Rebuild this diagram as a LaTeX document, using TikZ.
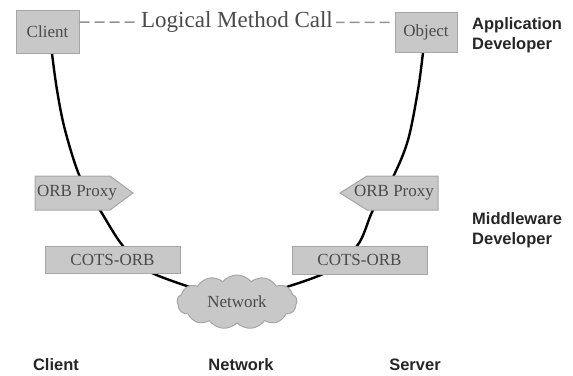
\documentclass[tikz,border=0pt]{standalone}
\usepackage{fontspec}
\setmainfont{Liberation Serif}
\newfontfamily\rolefont{Liberation Sans}
\usetikzlibrary{shapes.symbols,backgrounds}
\definecolor{boxfill}{HTML}{C8C8C8}
\definecolor{boxline}{HTML}{A6A6A6}
\definecolor{boxtext}{HTML}{4A4A4A}
\tikzset{
  box/.style={draw=boxline, line width=1pt, fill=boxfill, text=boxtext,
    font=\fontsize{17}{19}\selectfont, inner sep=0pt},
  boxlabel/.style={text=boxtext, font=\fontsize{17}{19}\selectfont, inner sep=0pt},
  proxyshape/.style={draw=boxline, line width=1pt, fill=boxfill, line join=miter},
  role/.style={font=\rolefont\bfseries\fontsize{16.5}{20}\selectfont, text=black!85,
    align=left, inner sep=0pt},
  wire/.style={line width=2.4pt, black},
  callline/.style={draw=gray!85, line width=1.5pt, dash pattern=on 10pt off 5pt},
}
\begin{document}
\begin{tikzpicture}[x=1pt,y=-1pt]
\useasboundingbox (0,0) rectangle (573,375);

% application objects
\node[box, minimum width=63pt, minimum height=43pt] (client) at (47.5,31.5) {Client};
\node[box, minimum width=62pt, minimum height=40pt] (object) at (426,32) {Object};

% middleware: ORB proxies (pointed tags) and COTS ORBs
\filldraw[proxyshape] (35,176) -- (110,176) -- (133,193) -- (110,210) -- (35,210) -- cycle;
\filldraw[proxyshape] (438,176) -- (367,176) -- (340,193) -- (367,210) -- (438,210) -- cycle;
\node[boxlabel] (lproxy) at (77,193) {ORB Proxy};
\node[boxlabel] (rproxy) at (394,193) {ORB Proxy};
\node[box, minimum width=135pt, minimum height=27pt] (lcots) at (112.5,259.5) {COTS-ORB};
\node[box, minimum width=135pt, minimum height=28pt] (rcots) at (359.5,260) {COTS-ORB};

% network
\node[cloud, cloud puffs=13, cloud puff arc=100, aspect=2.2, draw=boxline, fill=boxfill,
  line width=1pt, text=boxtext, font=\fontsize{17}{19}\selectfont,
  minimum width=120pt, minimum height=54pt, inner sep=0pt] (net) at (237,302) {Network};

% communication paths, behind the boxes
\begin{pgfonlayer}{background}
  \draw[wire] plot[smooth, tension=0.55] coordinates {([xshift=4.5pt]client.south)
    (57,90) (65,130) (80,177) (100,210) (123,246) (152,273) (net.center)};
  \draw[wire] plot[smooth, tension=0.55] coordinates {([xshift=-3pt]object.south)
    (418,90) (408,140) (393,177) (373,210) (357,246) (323,274) (net.center)};
\end{pgfonlayer}

% logical call between client and object
\draw[callline] ([yshift=9.5pt]client.east) --
  node[fill=white, text=boxtext, font=\fontsize{23}{25}\selectfont, inner xsep=3pt,
    inner ysep=1pt] (callt) {Logical Method Call}
  ([yshift=9.5pt]object.west);

% roles and tiers
\node[role, anchor=west] (approle) at (472,35) {Application\\Developer};
\node[role, anchor=west] (midrole) at (472,230) {Middleware\\Developer};
\node[role] (clientl) at (56,365) {Client};
\node[role] (netl) at (241,365) {Network};
\node[role] (serverl) at (415,365) {Server};
\end{tikzpicture}
\end{document}
